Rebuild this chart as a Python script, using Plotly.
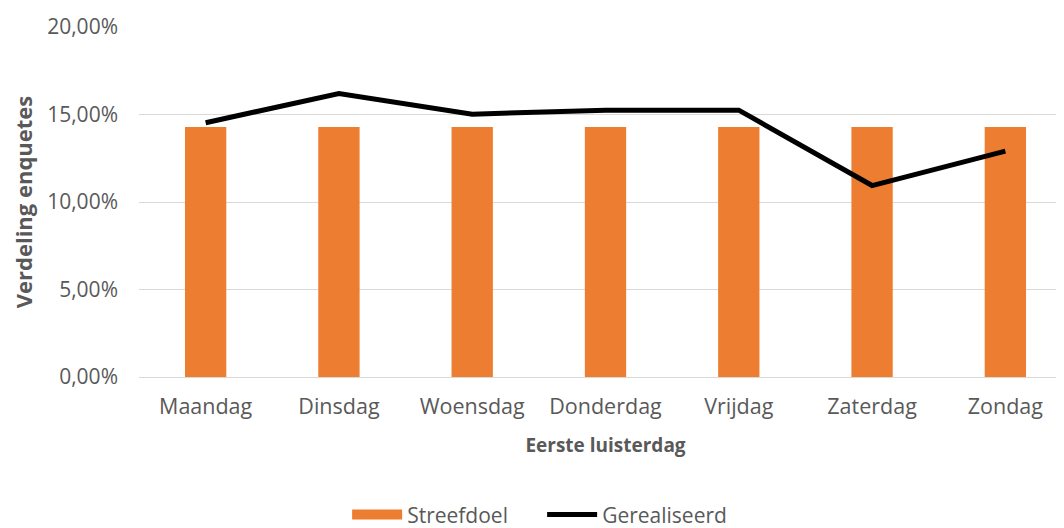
import plotly.graph_objects as go

days = ["Maandag", "Dinsdag", "Woensdag", "Donderdag", "Vrijdag", "Zaterdag", "Zondag"]
streefdoel = [0.1429, 0.1429, 0.1429, 0.1429, 0.1429, 0.1429, 0.1429]
gerealiseerd = [0.1453, 0.1620, 0.1502, 0.1525, 0.1525, 0.1094, 0.1291]

grey = "#595959"
orange = "#ED7D31"
font_family = "Open Sans, Liberation Sans, sans-serif"

fig = go.Figure()
fig.add_trace(go.Bar(
    x=days, y=streefdoel, name="Streefdoel",
    marker=dict(color=orange, line=dict(width=0)),
    width=0.31, showlegend=False, legendgroup="s",
))
# legend key for the bars (wide rectangle like the original)
fig.add_trace(go.Scatter(
    x=[None], y=[None], name="Streefdoel", mode="lines",
    line=dict(color=orange, width=15), legendgroup="s",
))
fig.add_trace(go.Scatter(
    x=days, y=gerealiseerd, name="Gerealiseerd", mode="lines",
    line=dict(color="#000000", width=5),
))

fig.update_layout(
    width=1064, height=528,
    margin=dict(l=131, r=0, t=19, b=159, autoexpand=False),
    paper_bgcolor="white", plot_bgcolor="white",
    separators=",.",
    font=dict(family=font_family, size=16, color=grey),
    showlegend=True,
    legend=dict(orientation="h", xref="container", yref="container",
                x=0.502, xanchor="center", y=0.04, yanchor="middle",
                font=dict(size=21, color=grey), traceorder="normal",
                itemwidth=50, entrywidth=130),
    xaxis=dict(
        range=[-0.5, 6.5], automargin=False,
        showgrid=False, showline=False, ticks="",
        ticklabelstandoff=14,
        tickfont=dict(size=21.5, color=grey),
        title=dict(text="<b>Eerste luisterdag</b>", font=dict(size=19, color=grey), standoff=20),
    ),
    yaxis=dict(
        range=[0, 0.2], dtick=0.05, tickformat=".2%", automargin=False,
        showgrid=True, gridcolor="#D9D9D9", gridwidth=1,
        zeroline=True, zerolinecolor="#D9D9D9", zerolinewidth=1,
        showline=False, ticks="", ticklen=0,
        ticklabelstandoff=20,
        tickfont=dict(size=21, color=grey),
        title=dict(text="<b>Verdeling enquetes</b>", font=dict(size=22, color=grey), standoff=12),
    ),
)

fig.write_html("out.html")
